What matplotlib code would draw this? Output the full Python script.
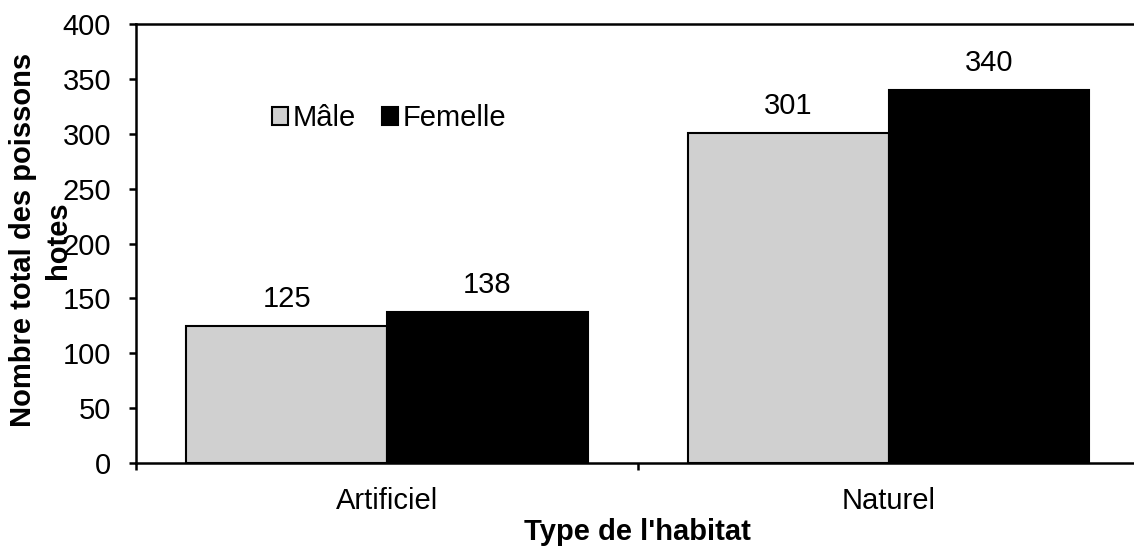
import numpy as np
import matplotlib
matplotlib.use("Agg")
import matplotlib.pyplot as plt

plt.rcParams["font.family"] = ["Liberation Sans", "DejaVu Sans"]

habitats = ["Artificiel", "Naturel"]
series = ["Mâle", "Femelle"]
male = [125, 301]
femelle = [138, 340]
colors = ["#d0d0d0", "#000000"]

fig = plt.figure(figsize=(11.34, 5.48), dpi=100)
ax = fig.add_axes([0.12, 0.155, 0.885, 0.801])

x = np.arange(len(habitats))
w = 0.4
for i, (vals, lab, col) in enumerate(zip([male, femelle], series, colors)):
    pos = x + (i - 0.5) * w
    ax.bar(pos, vals, w, color=col, edgecolor="black", linewidth=1.5, label=lab)
    for p, v in zip(pos, vals):
        ax.annotate(str(v), (p, v), xytext=(0, 9), textcoords="offset points",
                    ha="center", va="bottom", fontsize=21)

ax.set_xlim(-0.5, 1.5)
ax.set_ylim(0, 400)
ax.set_yticks(range(0, 401, 50))
ax.set_xticks(x)
ax.set_xticklabels(habitats)
ax.set_xticks([-0.5, 0.5, 1.5], minor=True)
ax.tick_params(axis="x", which="major", length=0, pad=17, labelsize=21)
ax.tick_params(axis="x", which="minor", length=5, width=1.8, direction="out")
ax.tick_params(axis="y", length=5, width=1.8, direction="out", pad=13, labelsize=21)
for s in ["left", "bottom", "top"]:
    ax.spines[s].set_linewidth(1.8)
ax.spines["right"].set_visible(False)

ax.legend(loc="center left", bbox_to_anchor=(0.1356, 0.786), ncol=2, frameon=False,
          fontsize=21, borderpad=0, borderaxespad=0, handlelength=0.55,
          handleheight=0.55, handletextpad=0.15, columnspacing=0.9)

# titre d'axe y sur deux lignes (la 2e chevauche les graduations, comme l'original)
fig.text(23 / 1134, 1 - 240 / 548, "Nombre total des poissons", rotation=90,
         ha="center", va="center", fontsize=21, fontweight="bold")
fig.text(58 / 1134, 1 - 240 / 548, "hotes", rotation=90,
         ha="center", va="center", fontsize=21, fontweight="bold")
fig.text(637 / 1134, 1 - 532 / 548, "Type de l'habitat", ha="center", va="center",
         fontsize=21, fontweight="bold")

fig.savefig("out.png", dpi=100)
